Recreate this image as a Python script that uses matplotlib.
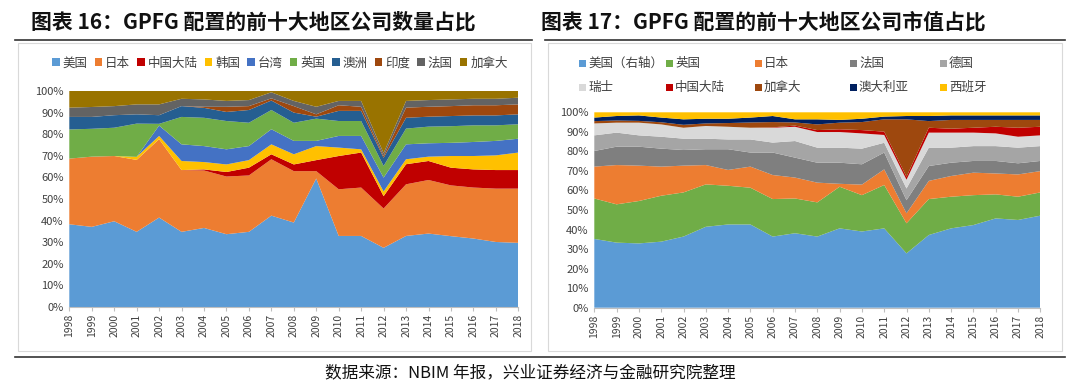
import matplotlib
matplotlib.use("Agg")
import matplotlib.pyplot as plt
from matplotlib.patches import Patch, Rectangle
from matplotlib.lines import Line2D
from matplotlib.ticker import PercentFormatter

plt.rcParams['font.family'] = ['Noto Sans CJK SC', 'DejaVu Sans']

years = list(range(1998, 2019))

# ---- 图表16: 公司数量占比 (%) ----
cnt_names = ['美国', '日本', '中国大陆', '韩国', '台湾', '英国', '澳洲', '印度', '法国', '加拿大']
cnt_colors = ['#5B9BD5', '#ED7D31', '#C00000', '#FFC000', '#4472C4',
              '#70AD47', '#255E91', '#9E480E', '#636363', '#997300']
cnt_us = [38.3, 37.1, 39.7, 34.8, 41.4, 34.8, 36.6, 33.7, 34.8, 42.3, 39.1,
          59.5, 32.9, 32.9, 27.4, 32.9, 34.0, 32.8, 31.7, 30.1, 29.7]
cnt_jp = [30.4, 32.5, 30.2, 33.3, 36.3, 28.6, 26.6, 26.7, 26.1, 26.1, 23.8,
          3.4, 21.6, 22.4, 18.2, 23.9, 24.8, 23.5, 23.6, 24.7, 25.1]
cnt_cn = [0, 0, 0, 0, 0, 0, 0.5, 2.1, 3.6, 2.3, 3.1,
          5.1, 15.4, 16.2, 5.7, 9.3, 8.8, 8.2, 8.4, 8.6, 8.6]
cnt_kr = [0, 0, 0, 1.4, 1.5, 4.2, 3.4, 3.5, 3.5, 4.6, 4.7,
          6.5, 3.9, 1.5, 2.2, 2.3, 2.0, 5.4, 6.2, 6.8, 8.1]
cnt_tw = [0, 0, 0, 0, 4.8, 7.7, 7.4, 7.0, 6.5, 7.0, 6.2,
          2.4, 5.4, 6.2, 6.4, 6.9, 6.2, 6.1, 6.5, 6.7, 6.4]
cnt_uk = [13.5, 12.9, 13.1, 15.4, 0.8, 12.7, 13.1, 13.1, 10.8, 8.9, 8.4,
          10.3, 6.9, 6.9, 5.4, 7.3, 7.7, 7.7, 7.7, 7.2, 6.7]
cnt_au = [5.8, 5.5, 5.8, 4.3, 4.0, 5.0, 4.6, 4.2, 5.9, 4.4, 4.7,
          0.9, 4.7, 4.7, 3.8, 5.0, 4.6, 4.7, 4.6, 4.6, 4.6]
cnt_in = [0, 0, 0, 0, 0, 0, 0.5, 2.4, 1.8, 1.0, 3.0,
          1.1, 2.6, 1.9, 0.8, 4.7, 4.6, 4.6, 4.7, 4.7, 4.6]
cnt_fr = [4.3, 4.6, 4.2, 4.6, 5.0, 3.4, 3.4, 2.7, 2.8, 2.8, 2.4,
          3.5, 2.0, 2.7, 1.3, 3.1, 3.1, 3.1, 3.0, 3.0, 3.1]
cnt_ca = [7.7, 7.4, 7.0, 6.2, 6.2, 3.6, 3.9, 4.6, 4.2, 0.6, 4.6,
          7.3, 4.6, 4.6, 28.8, 4.6, 4.2, 3.9, 3.6, 3.6, 3.1]

# ---- 图表17: 市值占比 (%) ----
val_names = ['美国（右轴）', '英国', '日本', '法国', '德国', '瑞士', '中国大陆', '加拿大', '澳大利亚', '西班牙']
val_colors = ['#5B9BD5', '#70AD47', '#ED7D31', '#7F7F7F', '#A5A5A5',
              '#D9D9D9', '#C00000', '#9E480E', '#002060', '#FFC000']
val_us = [35.2, 33.3, 32.9, 33.8, 36.4, 41.4, 42.6, 42.6, 36.4, 38.1, 36.4,
          40.6, 39.0, 40.6, 27.8, 37.2, 40.6, 42.3, 45.7, 44.9, 47.1]
val_uk = [20.7, 19.6, 21.7, 23.5, 22.6, 21.7, 19.8, 18.8, 19.2, 17.8, 17.5,
          21.3, 18.6, 22.2, 15.4, 18.4, 16.2, 15.3, 12.3, 11.9, 11.9]
val_jp = [16.3, 20.1, 18.1, 14.9, 13.7, 9.9, 8.1, 10.8, 12.3, 10.7, 10.1,
          1.5, 5.4, 8.0, 5.1, 9.3, 10.6, 11.5, 10.7, 11.4, 10.9]
val_fr = [8.0, 9.4, 9.7, 9.2, 8.0, 8.1, 10.6, 7.2, 11.5, 10.2, 10.2,
          10.8, 10.4, 8.6, 6.7, 7.6, 6.8, 6.0, 6.4, 5.7, 5.2]
val_de = [8.0, 7.2, 5.8, 6.1, 5.8, 5.4, 5.0, 6.7, 5.1, 8.5, 7.7,
          7.7, 8.0, 5.0, 6.0, 9.4, 7.7, 7.6, 7.6, 8.0, 7.6]
val_ch = [6.1, 5.1, 6.5, 6.3, 5.6, 6.5, 6.5, 6.0, 7.6, 7.3, 8.0,
          8.0, 7.8, 4.0, 4.5, 7.7, 7.7, 6.9, 6.5, 5.6, 5.5]
val_cn = [0, 0, 0, 0, 0, 0, 0, 0, 0.2, 0.6, 1.0,
          1.4, 1.7, 1.7, 1.5, 2.5, 2.0, 2.5, 3.4, 4.6, 4.4]
val_ca = [1.2, 1.1, 0.9, 1.1, 1.5, 1.3, 1.9, 2.7, 2.7, 1.6, 2.9,
          3.4, 4.1, 6.3, 29.4, 3.4, 4.5, 4.0, 3.5, 4.0, 3.5]
val_au = [1.8, 2.3, 2.8, 2.4, 2.8, 2.4, 2.2, 2.5, 3.1, 1.6, 2.6,
          1.4, 1.7, 1.4, 1.7, 2.6, 2.3, 2.3, 2.3, 2.3, 2.3]
val_es = [2.7, 1.9, 1.6, 2.7, 3.6, 3.3, 3.3, 2.7, 1.9, 3.6, 3.6,
          3.9, 3.3, 2.2, 1.9, 1.9, 1.6, 1.6, 1.6, 1.6, 1.6]

cnt_series = [cnt_us, cnt_jp, cnt_cn, cnt_kr, cnt_tw, cnt_uk, cnt_au, cnt_in, cnt_fr, cnt_ca]
val_series = [val_us, val_uk, val_jp, val_fr, val_de, val_ch, val_cn, val_ca, val_au, val_es]

W, H = 1080, 391
fig = plt.figure(figsize=(W / 100, H / 100), dpi=100)


def fx(px):
    return px / W


def fy(py):
    return 1 - py / H


# titles and rules
fig.text(fx(31), fy(22), '图表 16：GPFG 配置的前十大地区公司数量占比', fontsize=15,
         fontweight='bold', va='center', ha='left', color='#111111')
fig.text(fx(541), fy(22), '图表 17：GPFG 配置的前十大地区公司市值占比', fontsize=15,
         fontweight='bold', va='center', ha='left', color='#111111')
for x0, x1 in [(15, 532), (545, 1065)]:
    fig.add_artist(Line2D([fx(x0), fx(x1)], [fy(40), fy(40)], color='#333333', lw=1.2))
fig.add_artist(Line2D([fx(15), fx(1065)], [fy(357), fy(357)], color='#333333', lw=1.2))

# chart boxes
for x0, x1 in [(18, 531), (548, 1062)]:
    fig.add_artist(Rectangle((fx(x0), fy(351)), fx(x1 - x0), (351 - 43) / H,
                             fill=False, ec='#D9D9D9', lw=0.8))

fig.text(fx(530), fy(373), '数据来源：NBIM 年报，兴业证券经济与金融研究院整理',
         fontsize=12, ha='center', va='center', color='#111111')


def style_axes(ax):
    ax.set_xlim(1998, 2018)
    ax.set_ylim(0, 100)
    ax.set_xticks(years)
    ax.set_xticklabels([str(y) for y in years], rotation=90, fontsize=7.5, color='#404040')
    ax.set_yticks(range(0, 101, 10))
    ax.yaxis.set_major_formatter(PercentFormatter(decimals=0))
    ax.tick_params(axis='y', length=0, labelsize=8, labelcolor='#404040', pad=4)
    ax.tick_params(axis='x', length=3, color='#BFBFBF', pad=2)
    for s in ['top', 'right', 'left']:
        ax.spines[s].set_visible(False)
    ax.spines['bottom'].set_color('#BFBFBF')
    ax.set_facecolor('none')


# left chart
ax1 = fig.add_axes([fx(69.3), 1 - 307 / H, fx(449), 216 / H])
ax1.stackplot(years, cnt_series, colors=cnt_colors, lw=0)
style_axes(ax1)
h1 = [Patch(fc=c, ec='none') for c in cnt_colors]
fig.legend(h1, cnt_names, loc='center', bbox_to_anchor=(fx(280), fy(63)), ncol=10,
           frameon=False, fontsize=9, handlelength=0.6, handleheight=0.6,
           handletextpad=0.25, columnspacing=0.55, labelcolor='#404040')

# right chart
ax2 = fig.add_axes([fx(594.3), 1 - 307.7 / H, fx(446), 195.4 / H])
ax2.stackplot(years, val_series, colors=val_colors, lw=0)
style_axes(ax2)

# legend of the right chart, Excel-style fixed columns
col_x = [579, 666, 755, 850, 940]
row_y = [63, 87]
for k, (name, c) in enumerate(zip(val_names, val_colors)):
    px = col_x[k % 5]
    py = row_y[k // 5]
    fig.add_artist(Rectangle((fx(px), fy(py + 3.5)), fx(7), 7 / H, fc=c, ec='none'))
    fig.text(fx(px + 9), fy(py), name, fontsize=9, color='#404040', ha='left', va='center')

fig.savefig('out.png', dpi=100)
